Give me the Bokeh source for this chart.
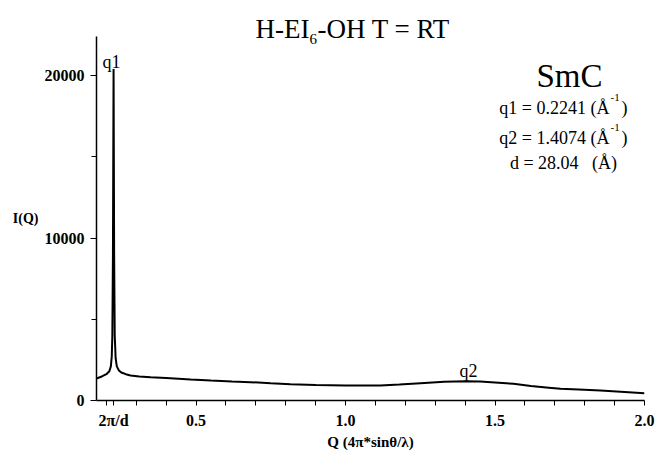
from bokeh.plotting import figure
from bokeh.models import Range1d, FixedTicker, Label
from bokeh.embed import file_html
from bokeh.resources import INLINE

# ---- data ----
q_values = [0.167, 0.185, 0.200, 0.210, 0.215, 0.218, 0.220, 0.222, 0.2241,
            0.226, 0.228, 0.231, 0.235, 0.242, 0.250, 0.265, 0.281, 0.310,
            0.348, 0.400, 0.482, 0.550, 0.620, 0.682, 0.750, 0.816, 0.900,
            1.000, 1.117, 1.180, 1.251, 1.330, 1.401, 1.450, 1.500, 1.562,
            1.620, 1.680, 1.719, 1.780, 1.853, 1.920, 2.000]
intensity = [1354, 1480, 1620, 1800, 2100, 2700, 4000, 9000, 20400,
             9000, 4000, 2600, 2100, 1850, 1720, 1620, 1540, 1480,
             1430, 1380, 1290, 1230, 1170, 1130, 1060, 1000, 960,
             930, 920, 980, 1065, 1150, 1190, 1170, 1110, 1025,
             890, 790, 720, 680, 615, 540, 450]

x_major_ticks = [0.2241, 0.5, 1.0, 1.5, 2.0]
x_tick_labels = ["2π/d", "0.5", "1.0", "1.5", "2.0"]
x_minor_ticks = [0.2, 0.3, 0.4, 0.6, 0.7, 0.8, 0.9, 1.1, 1.2, 1.3, 1.4,
                 1.6, 1.7, 1.8, 1.9]
y_major_ticks = [0, 10000, 20000]
y_minor_ticks = [5000, 15000]

X_MIN, X_MAX = 0.167, 2.0
Y_MIN, Y_AXIS_MAX = 0, 22400

# geometry (pixels): the axis box runs 96..644 horizontally, 36..400 vertically;
# the plotting frame reaches the top of the canvas so the title texts fit in it.
FL, FR, FT, FB = 96, 644, 36, 400
W, H = 659, 461
Y_TOP = Y_MIN + (Y_AXIS_MAX - Y_MIN) * FB / (FB - FT)

SERIF = "Liberation Serif"

p = figure(width=W, height=H, output_backend="svg", toolbar_location=None,
           x_range=Range1d(X_MIN, X_MAX), y_range=Range1d(Y_MIN, Y_TOP),
           min_border_left=FL, min_border_right=W - FR,
           min_border_top=0, min_border_bottom=H - FB)
p.title.visible = False
p.outline_line_color = None
p.xgrid.visible = False
p.ygrid.visible = False
p.background_fill_color = "white"
p.border_fill_color = "white"

p.line(q_values, intensity, line_color="black", line_width=2)

# x axis
xa = p.xaxis[0]
xa.ticker = FixedTicker(ticks=x_major_ticks, minor_ticks=x_minor_ticks)
xa.major_label_overrides = {t: s for t, s in zip(x_major_ticks, x_tick_labels)}
xa.major_label_text_font = SERIF
xa.major_label_text_font_style = "bold"
xa.major_label_text_font_size = "16px"
xa.major_label_text_color = "black"
xa.major_tick_in = 0
xa.major_tick_out = 5
xa.minor_tick_in = 0
xa.minor_tick_out = 5
xa.major_label_standoff = 6
xa.axis_line_width = 1.5
xa.axis_label = "Q (4π*sinθ/λ)"
xa.axis_label_text_font = SERIF
xa.axis_label_text_font_style = "bold"
xa.axis_label_text_font_size = "15px"
xa.axis_label_text_color = "black"
xa.axis_label_standoff = 2

# y axis
ya = p.yaxis[0]
ya.bounds = (Y_MIN, Y_AXIS_MAX)
ya.ticker = FixedTicker(ticks=y_major_ticks, minor_ticks=y_minor_ticks)
ya.major_label_text_font = SERIF
ya.major_label_text_font_style = "bold"
ya.major_label_text_font_size = "16px"
ya.major_label_text_color = "black"
ya.major_tick_in = 0
ya.major_tick_out = 6
ya.minor_tick_in = 0
ya.minor_tick_out = 5
ya.major_label_standoff = 6
ya.axis_line_width = 1.5
ya.axis_label = "\n\nI(Q)"
ya.axis_label_orientation = "horizontal"
ya.axis_label_text_font = SERIF
ya.axis_label_text_font_style = "bold"
ya.axis_label_text_font_size = "14px"
ya.axis_label_text_color = "black"
ya.axis_label_standoff = 3


def xd(px):
    return X_MIN + (px - FL) * (X_MAX - X_MIN) / (FR - FL)


def yd(py):
    return Y_MIN + (FB - py) * (Y_AXIS_MAX - Y_MIN) / (FB - FT)


def txt(s, px, py, size, align="left", style="normal"):
    p.add_layout(Label(x=xd(px), y=yd(py), text=s, text_font=SERIF,
                       text_font_size=f"{size}px", text_font_style=style,
                       text_align=align, text_baseline="alphabetic",
                       text_color="black"))


NB = "\u00a0"

# title with subscript
txt("H-EI", 255, 28, 27)
txt("6", 309, 38, 15)
txt("-OH T = RT", 317, 28, 27)

# peak labels
txt("q1", 102, 61, 18)
txt("q2", 468, 370, 18, align="center")

# phase annotation
txt("SmC", 569, 75, 33, align="center")
txt("q1 = 0.2241 (Å", 609, 107, 18, align="right")
txt("-1", 610, 97, 11)
txt(")", 621, 107, 18)
txt("q2 = 1.4074 (Å", 609, 137, 18, align="right")
txt("-1", 610, 127, 11)
txt(")", 621, 137, 18)
txt("d = 28.04" + NB * 3 + "(Å)", 563, 162, 18, align="center")

open("out.html", "w").write(file_html(p, INLINE))
